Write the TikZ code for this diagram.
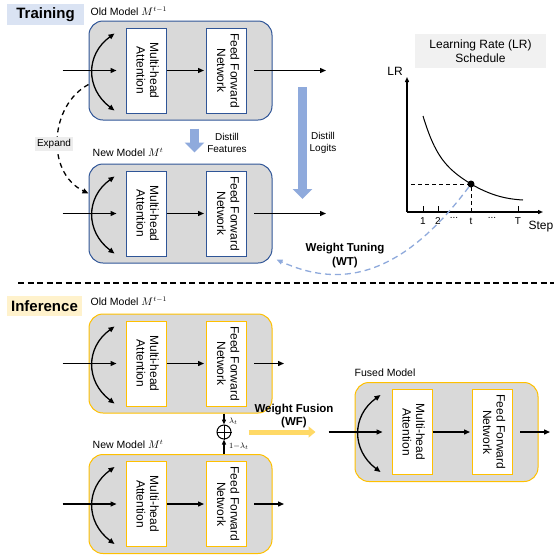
\documentclass[tikz,border=0pt]{standalone}
\usepackage{fontspec}
\setmainfont{Liberation Sans}
\usepackage{amsmath}
\usetikzlibrary{arrows.meta, positioning}

\definecolor{bluebd}{HTML}{2F5597}
\definecolor{yellowbd}{HTML}{FFC000}
\definecolor{boxgray}{HTML}{D9D9D9}
\definecolor{distill}{HTML}{8FAADC}
\definecolor{fusion}{HTML}{FFD966}
\definecolor{tagblue}{HTML}{DAE3F3}
\definecolor{tagyellow}{HTML}{FFF2CC}
\definecolor{notegray}{HTML}{EDEDED}

\tikzset{
  model/.style={draw, fill=boxgray, rounded corners=14pt, line width=1pt,
    minimum width=183pt, minimum height=99pt},
  layer/.style={draw, fill=white, line width=1pt, minimum width=40pt,
    minimum height=85pt, inner sep=0pt, font=\fontsize{12}{13.5}\selectfont},
  mlabel/.style={anchor=base west, inner sep=0pt, font=\fontsize{10.5}{12}\selectfont},
  tag/.style={minimum width=77pt, minimum height=21pt, inner sep=0pt,
    font=\fontsize{15}{17}\selectfont\bfseries},
  note/.style={fill=notegray, inner sep=2pt, font=\fontsize{10}{12}\selectfont},
  arr/.style={line width=1.3pt, -{Triangle[length=6pt,width=5pt]}},
  twoarr/.style={line width=1.3pt, {Triangle[length=6pt,width=5pt]}-{Triangle[length=6pt,width=5pt]}},
  blockarr/.style={line width=9pt, -{Triangle[length=10pt,width=19pt]}},
  wt/.style={draw=distill, line width=1.3pt, dash pattern=on 6pt off 4pt,
    -{Triangle[length=6pt,width=5pt]}},
  guide/.style={line width=1pt, dash pattern=on 4pt off 3pt},
  small/.style={font=\fontsize{10}{12}\selectfont},
}

\begin{document}
\begin{tikzpicture}[x=1pt, y=-1pt]
  \useasboundingbox (0,0) rectangle (554,558);

  % Modelle: Box, Attention, Feed Forward
  \foreach \m/\x/\y/\col/\outlen in {oldT/180.5/70.5/bluebd/72, newT/180.5/213.5/bluebd/72,
      oldI/180.5/363.5/yellowbd/30, newI/180.5/504/yellowbd/30, fused/446.5/432/yellowbd/30} {
    \node[model, draw=\col] (\m) at (\x,\y) {};
    \node[layer, draw=\col] (\m-mha) at ([xshift=-34.5pt]\m.center)
      {\rotatebox{-90}{\begin{tabular}{@{}c@{}}Multi-head\\Attention\end{tabular}}};
    \node[layer, draw=\col] (\m-ffn) at ([xshift=46pt]\m.center)
      {\rotatebox{-90}{\begin{tabular}{@{}c@{}}Feed Forward\\Network\end{tabular}}};
    \draw[arr] ([xshift=-26pt]\m.west) -- ([xshift=-9pt]\m-mha.west);
    \draw[twoarr] ([shift={(-11pt,37pt)}]\m-mha.west)
      .. controls ([shift={(-3pt,16pt)}]\m.west) and ([shift={(-3pt,-18pt)}]\m.west)
      .. ([shift={(-11pt,-40pt)}]\m-mha.west);
    \draw[arr, shorten >=2pt] (\m-mha) -- (\m-ffn);
    \draw[arr] ([xshift=7pt]\m-ffn.east) -- ++(\outlen,0);
  }

  % Training
  \node[tag, fill=tagblue] (train) at (45.5,14.5) {Training};
  \node[mlabel] at ([shift={(2pt,5pt)}]oldT.north west) {Old Model $M^{t-1}$};
  \node[mlabel] at ([shift={(4pt,7pt)}]newT.north west) {New Model $M^{t}$};

  \draw[arr, dash pattern=on 5pt off 4pt] ([yshift=-14pt]oldT.west)
    .. controls (50,105) and (45,172) .. ([yshift=20pt]newT.west);
  \node[note] (expand) at (54,144) {Expand};

  \draw[blockarr, distill, shorten <=8pt, shorten >=11pt]
    ([xshift=14pt]oldT.south) -- ([xshift=14pt]newT.north);
  \node[small, align=center] (feat) at (227,142.5) {Distill\\Features};
  \draw[blockarr, distill] (302.5,87) -- (302.5,199);
  \node[small, align=center] (logit) at (323,142.5) {Distill\\Logits};

  % LR Verlauf
  \node[fill=notegray!80, minimum width=131pt, minimum height=34pt, align=center,
    font=\fontsize{12}{14}\selectfont] (lrtitle) at (480.5,51) {Learning Rate (LR)\\Schedule};
  \draw[arr, -{Triangle[length=5pt,width=4pt]}] (407,212) -- (407,77);
  \draw[arr, -{Triangle[length=5pt,width=4pt]}] (407,212) -- (543,212);
  \node[font=\fontsize{12}{14}\selectfont] (lr) at (395,71) {LR};
  \node[font=\fontsize{12}{14}\selectfont] (step) at (541,227) {Step};
  \foreach \x/\lab in {423/1, 438/2, 518/T} {
    \draw[line width=1pt] (\x,206) -- (\x,212);
    \node[small] at (\x,221) {\lab};
  }
  \node[small] at (471,221) {t};
  \node[small] at (454,218) {...};
  \node[small] at (492,218) {...};
  \draw[line width=1pt] (423,116) .. controls (435,155) and (445,168) .. (471,184)
    .. controls (490,195) and (505,199) .. (523,200);
  \node[circle, fill, inner sep=0pt, minimum size=7pt] (dot) at (471,184) {};
  \draw[guide] (411,184) -- (dot.center) -- (471,212);

  \draw[wt] (dot) .. controls (398,282) and (336,286.5) .. ([shift={(4pt,4pt)}]newT.south east);
  \node[align=center, font=\fontsize{11.5}{14}\selectfont\bfseries] (wtlabel) at (345,255.5)
    {Weight Tuning\\(WT)};

  \draw[line width=1.8pt, dash pattern=on 6pt off 3.5pt] (18,283) -- (554,283);

  % Inference
  \node[tag, fill=tagyellow, minimum width=75pt, minimum height=20pt] (infer) at (44.5,306) {Inference};
  \node[mlabel] at ([shift={(2pt,8pt)}]oldI.north west) {Old Model $M^{t-1}$};
  \node[mlabel] at ([shift={(4pt,6pt)}]newI.north west) {New Model $M^{t}$};
  \node[mlabel] at ([shift={(0pt,6pt)}]fused.north west) {Fused Model};

  \node[draw, circle, line width=1pt, minimum size=14pt, inner sep=0pt] (plus) at (224,432) {};
  \draw[line width=1pt] (plus.north) -- (plus.south) (plus.west) -- (plus.east);
  \draw[arr, -{Triangle[length=5pt,width=4pt]}] (oldI.south -| plus) -- (plus.north);
  \draw[arr, -{Triangle[length=5pt,width=4pt]}] (newI.north -| plus) -- (plus.south);
  \node[font=\fontsize{8}{9}\selectfont, anchor=west, inner sep=0pt] at (229,421) {$\lambda_t$};
  \node[font=\fontsize{8}{9}\selectfont, anchor=west, inner sep=0pt] at (229,446) {$1{-}\lambda_t$};

  \draw[fusion, line width=5pt, -{Triangle[length=7pt,width=11pt]}]
    ([xshift=17pt]plus.east) -- ([xshift=-39pt]fused.west);
  \node[align=center, font=\fontsize{11.5}{13}\selectfont\bfseries] (wflabel) at (294,416.5)
    {Weight Fusion\\(WF)};
\end{tikzpicture}
\end{document}
